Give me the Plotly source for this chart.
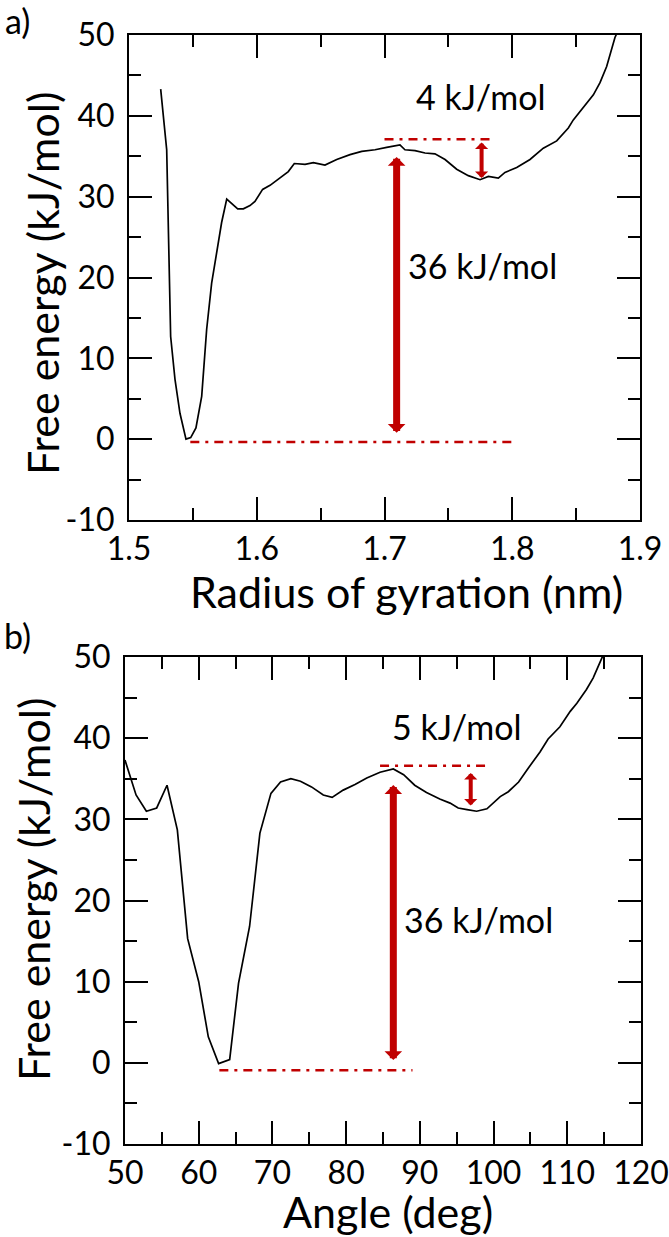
import plotly.graph_objects as go

# ---------------- data ----------------
# Panel a: free energy vs radius of gyration
rg_nm = [1.5248, 1.5295, 1.5326, 1.5360, 1.5399, 1.5446, 1.5483, 1.5524, 1.5569, 1.5608,
         1.5647, 1.5691, 1.5725, 1.5765, 1.5851, 1.5895, 1.5947, 1.5986, 1.6046, 1.6104,
         1.6177, 1.6247, 1.6294, 1.6378, 1.6443, 1.6534, 1.6626, 1.6730, 1.6822, 1.6926,
         1.7017, 1.7121, 1.7160, 1.7239, 1.7317, 1.7395, 1.7474, 1.7565, 1.7656, 1.7748,
         1.7813, 1.7891, 1.7943, 1.8035, 1.8139, 1.8243, 1.8348, 1.8413, 1.8439, 1.8478,
         1.8556, 1.8635, 1.8687, 1.8739, 1.8804, 1.8830]
fe_rg = [43.3, 35.8, 12.7, 7.4, 3.2, 0.0, 0.2, 1.4, 5.3, 13.6,
         19.3, 23.5, 26.8, 29.7, 28.5, 28.5, 28.9, 29.4, 30.9, 31.4,
         32.3, 33.1, 34.1, 34.0, 34.2, 33.9, 34.6, 35.2, 35.6, 35.8,
         36.1, 36.4, 35.8, 35.7, 35.4, 35.3, 34.6, 33.4, 32.6, 32.1,
         32.5, 32.3, 33.0, 33.6, 34.6, 36.0, 36.9, 38.0, 38.5, 39.5,
         41.0, 42.6, 44.1, 46.1, 49.7, 50.6]

# Panel b: free energy vs angle
angle_deg = [50.0, 51.5, 52.9, 54.3, 55.7, 57.1, 58.5, 60.0, 61.3, 62.7,
             64.2, 65.4, 66.9, 68.3, 69.8, 71.1, 72.5, 73.8, 75.3, 76.9,
             78.1, 79.6, 81.2, 82.8, 84.6, 86.4, 87.8, 89.3, 90.9, 92.7,
             94.1, 95.2, 96.4, 97.7, 99.1, 100.2, 100.9, 102.0, 103.4, 104.7,
             106.3, 107.4, 109.0, 110.4, 111.3, 112.6, 113.5, 114.7, 115.0]
fe_angle = [37.3, 33.0, 31.0, 31.4, 34.2, 28.7, 15.3, 10.0, 3.2, -0.1,
            0.4, 9.8, 16.8, 28.3, 33.2, 34.6, 35.0, 34.7, 34.0, 33.0,
            32.7, 33.6, 34.3, 35.1, 35.8, 36.2, 35.5, 34.2, 33.3, 32.5,
            32.0, 31.4, 31.2, 31.0, 31.3, 32.2, 32.8, 33.4, 34.6, 36.3,
            38.3, 39.9, 41.4, 43.3, 44.3, 46.0, 47.4, 49.9, 50.5]

# reference (dash-dot) levels: [x_start, x_end], level
a_low_x, a_low_y = [1.548, 1.800], -0.35
a_high_x, a_high_y = [1.700, 1.785], 37.1
b_low_x, b_low_y = [62.8, 89.0], -0.9
b_high_x, b_high_y = [84.6, 99.3], 36.6

# barrier arrows: x, y_bottom, y_top
a_big_arrow = (1.7095, 0.8, 35.1)
a_small_arrow = (1.776, 32.3, 36.9)
b_big_arrow = (86.4, 0.35, 34.4)
b_small_arrow = (96.9, 31.7, 35.9)

# labels: text, x, y
a_labels = [("4 kJ/mol", 1.7754, 42.4), ("36 kJ/mol", 1.777, 21.5)]
b_labels = [("5 kJ/mol", 95.0, 41.4), ("36 kJ/mol", 98.0, 17.7)]

# ticks
a_xticks = [1.5, 1.6, 1.7, 1.8, 1.9]
a_xtick_text = ["1.5", "1.6", "1.7", "1.8", "1.9"]
b_xticks = [50, 60, 70, 80, 90, 100, 110, 120]
b_xtick_text = ["50", "60", "70", "80", "90", "100", "110", "120"]
yticks = [-10, 0, 10, 20, 30, 40, 50]
ytick_text = ["-10", "0", "10", "20", "30", "40", "50"]

# ---------------- figure ----------------
W, H = 669, 1237
RED = "#C00000"
FONT = "Lato"
TICKSZ = 32
TITLESZ = 43
DASH = "9px,6px,3px,6px"

fig = go.Figure()

fig.add_trace(go.Scatter(x=rg_nm, y=fe_rg, mode="lines",
                         line=dict(color="black", width=1.7),
                         xaxis="x", yaxis="y", showlegend=False))
fig.add_trace(go.Scatter(x=angle_deg, y=fe_angle, mode="lines",
                         line=dict(color="black", width=1.7),
                         xaxis="x2", yaxis="y2", showlegend=False))

for xs, lvl, xa, ya in [(a_low_x, a_low_y, "x", "y"), (a_high_x, a_high_y, "x", "y"),
                        (b_low_x, b_low_y, "x2", "y2"), (b_high_x, b_high_y, "x2", "y2")]:
    fig.add_trace(go.Scatter(x=xs, y=[lvl, lvl], mode="lines",
                             line=dict(color=RED, width=2.5, dash=DASH),
                             xaxis=xa, yaxis=ya, showlegend=False))

annotations = []


def arrow(spec, xa, ya, width, size):
    x, y0, y1 = spec
    return dict(x=x, y=y0, ax=x, ay=y1, xref=xa, yref=ya, axref=xa, ayref=ya,
                text="", showarrow=True, arrowside="end+start",
                arrowhead=1, startarrowhead=1, arrowsize=size, startarrowsize=size,
                arrowwidth=width, arrowcolor=RED)


annotations.append(arrow(a_big_arrow, "x", "y", 7, 0.42))
annotations.append(arrow(a_small_arrow, "x", "y", 4, 0.55))
annotations.append(arrow(b_big_arrow, "x2", "y2", 7, 0.42))
annotations.append(arrow(b_small_arrow, "x2", "y2", 4, 0.55))

for t, x, y in a_labels:
    annotations.append(dict(x=x, y=y, xref="x", yref="y", text=t, showarrow=False,
                            xanchor="center", yanchor="middle",
                            font=dict(family=FONT, size=TICKSZ + 2, color="black")))
for t, x, y in b_labels:
    annotations.append(dict(x=x, y=y, xref="x2", yref="y2", text=t, showarrow=False,
                            xanchor="center", yanchor="middle",
                            font=dict(family=FONT, size=TICKSZ + 2, color="black")))


def px(xp):
    return xp / W


def py(yp):
    return 1 - yp / H


def paper_text(text, x, y, size, angle=0, xanchor="center"):
    return dict(x=px(x), y=py(y), xref="paper", yref="paper", text=text,
                textangle=angle, xanchor=xanchor, yanchor="middle", showarrow=False,
                font=dict(family=FONT, size=size, color="black"))


# axis titles and panel letters
annotations += [
    paper_text("Radius of gyration (nm)", 406, 591, TITLESZ),
    paper_text("Angle (deg)", 388, 1211, TITLESZ),
    paper_text("Free energy (kJ/mol)", 42, 284, TITLESZ, angle=-90),
    paper_text("Free energy (kJ/mol)", 33, 890, TITLESZ, angle=-90),
    paper_text("a)", 3, 20, 34, xanchor="left"),
    paper_text("b)", 2, 636, 34, xanchor="left"),
]

common = dict(showline=True, linecolor="black", linewidth=2, mirror="ticks",
              ticks="inside", ticklen=23, tickwidth=2, tickcolor="black",
              showgrid=False, zeroline=False, automargin=False,
              tickfont=dict(family=FONT, size=TICKSZ, color="black"))

fig.update_layout(
    template="none",
    width=W, height=H, autosize=False,
    margin=dict(l=0, r=0, t=0, b=0, pad=0),
    paper_bgcolor="white", plot_bgcolor="white",
    annotations=annotations,
    xaxis=dict(domain=[px(129), px(640)], range=[1.5, 1.9], anchor="y",
               tickmode="array", tickvals=a_xticks, ticktext=a_xtick_text,
               minor=dict(ticks="inside", ticklen=12, tickwidth=2, tickcolor="black",
                          dtick=0.05, tick0=1.5, showgrid=False),
               **common),
    yaxis=dict(domain=[py(520), py(35)], range=[-10, 50], anchor="x",
               tickmode="array", tickvals=yticks, ticktext=ytick_text,
               ticklabelstandoff=6,
               minor=dict(ticks="inside", ticklen=12, tickwidth=2, tickcolor="black",
                          dtick=5, tick0=-10, showgrid=False),
               **common),
    xaxis2=dict(domain=[px(125), px(641)], range=[50, 120], anchor="y2",
                tickmode="array", tickvals=b_xticks, ticktext=b_xtick_text,
                minor=dict(ticks="inside", ticklen=12, tickwidth=2, tickcolor="black",
                           dtick=5, tick0=50, showgrid=False),
                **common),
    yaxis2=dict(domain=[py(1144), py(657)], range=[-10, 50], anchor="x2",
                tickmode="array", tickvals=yticks, ticktext=ytick_text,
                ticklabelstandoff=6,
                minor=dict(ticks="inside", ticklen=12, tickwidth=2, tickcolor="black",
                           dtick=5, tick0=-10, showgrid=False),
                **common),
)

fig.write_html("out.html",
               config={"displayModeBar": False},
               post_script="document.body.style.margin='0px';"
                           "document.body.style.overflow='hidden';")
